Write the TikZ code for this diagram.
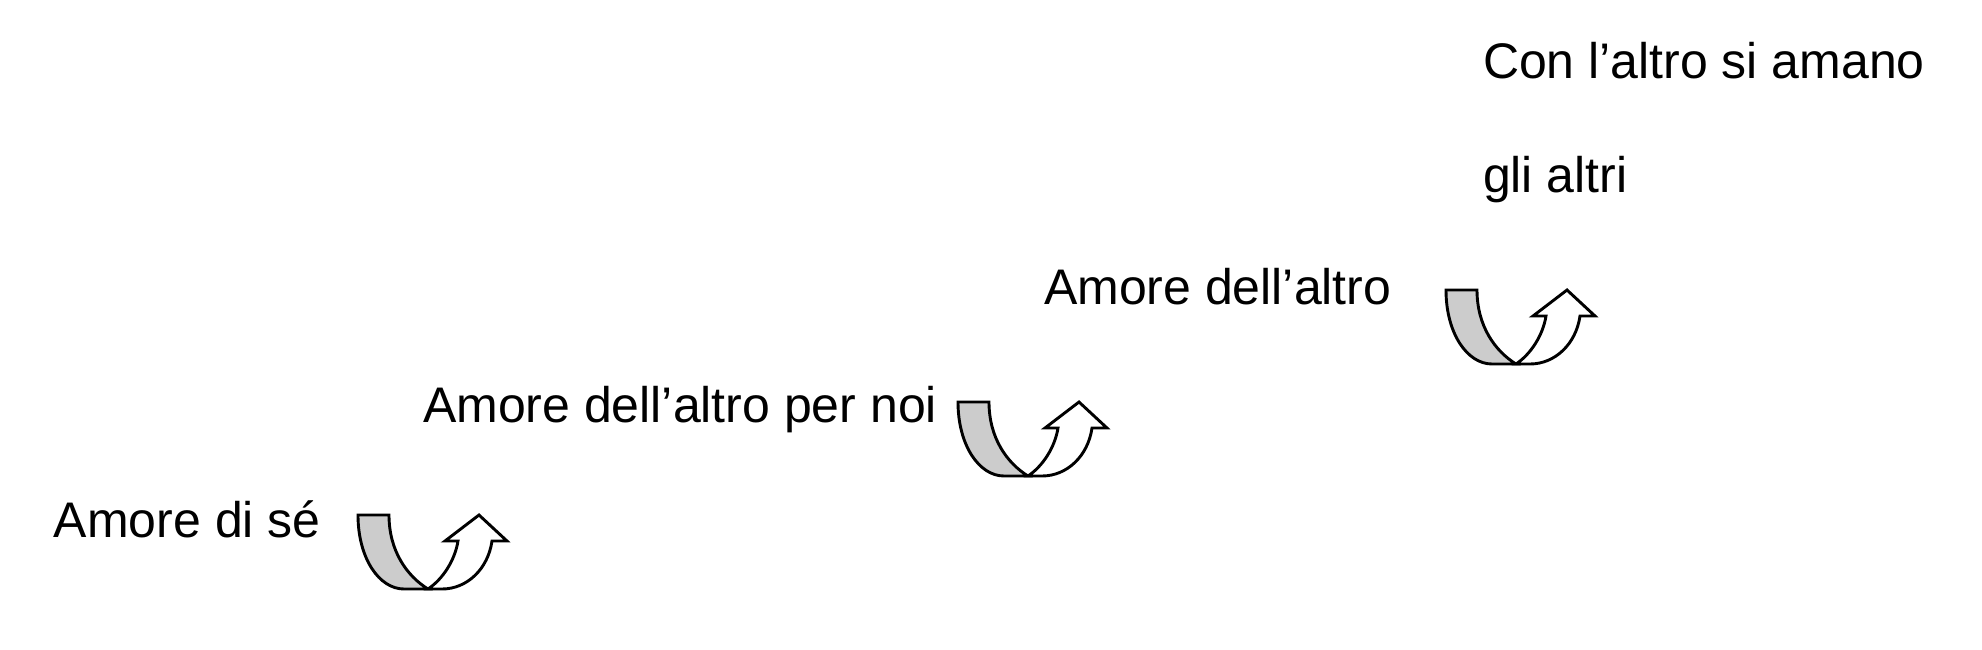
\documentclass[tikz,border=0pt]{standalone}
\usepackage{fontspec}
\setmainfont{Liberation Sans}
\definecolor{bandgray}{RGB}{204,204,204}
\tikzset{
  lbl/.style={anchor=base west, inner sep=0pt, outer sep=0pt,
    font=\fontsize{25pt}{30pt}\selectfont},
  shapeline/.style={draw=black, line width=1.45pt, line join=miter},
  uturn/.pic={
    \path[shapeline, fill=bandgray]
      (0,0) -- (31,0)
      .. controls (31,36) and (49,61) .. (70,74)
      -- (46,74)
      .. controls (21,74) and (0,43) .. (0,0) -- cycle;
    \path[shapeline, fill=white]
      (70,74) .. controls (85,64) and (97,45) .. (100,26)
      -- (87,26) -- (121,0) -- (149,26) -- (134,26)
      .. controls (130,54) and (109,74) .. (84,74)
      -- cycle;
  }
}
\begin{document}
\begin{tikzpicture}[x=0.5pt,y=-0.5pt]
  \useasboundingbox (0,0) rectangle (1982,649);
  \node[lbl] (t1) at (54,537) {Amore di sé};
  \node[lbl] (t2) at (423,422) {Amore dell’altro per noi};
  \node[lbl] (t3) at (1044,304) {Amore dell’altro};
  \node[lbl] (t4) at (1483,78) {Con l’altro si amano};
  \node[lbl] (t5) at (1483,192) {gli altri};
  \pic at (358,515) {uturn};
  \pic at (958,402) {uturn};
  \pic at (1446,290) {uturn};
\end{tikzpicture}
\end{document}
